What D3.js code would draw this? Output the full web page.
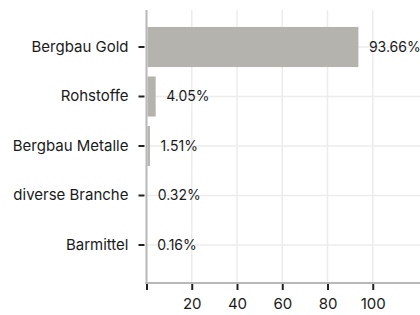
<!DOCTYPE html>
<html>
<head>
<meta charset="utf-8">
<script src="https://cdn.jsdelivr.net/npm/d3@7"></script>
<style>
  body { margin: 0; background: #fff; }
  text { font-family: Inter, "Noto Sans", sans-serif; fill: #1a1a1a; }
</style>
</head>
<body>
<div class="chartDiv"></div>
<script>

// data
let categories = ["Bergbau Gold", "Rohstoffe", "Bergbau Metalle", "diverse Branche", "Barmittel"];
let values = [93.66, 4.05, 1.51, 0.32, 0.16];
let valueLabels = ["93.66%", "4.05%", "1.51%", "0.32%", "0.16%"];
let xTicks = [0, 20, 40, 60, 80, 100];

let width = 420, height = 315;
let plot = {left: 146.5, right: 418, top: 10, bottom: 283};
let axisFont = 15, labelFont = 14;

let svg = d3.select(".chartDiv").append("svg")
    .attr("width", width)
    .attr("height", height);

// scales
let x = d3.scaleLinear().domain([0, 120]).range([plot.left, plot.right]);
let y = d3.scaleBand().domain(categories)
    .range([22.25, 269.75])
    .paddingInner(0.19)
    .paddingOuter(0.095);

// grid
svg.append("g").selectAll("line")
    .data(xTicks.slice(1))
    .join("line")
    .attr("x1", d => x(d)).attr("x2", d => x(d))
    .attr("y1", plot.top).attr("y2", plot.bottom)
    .attr("stroke", "#ececec")
    .attr("stroke-width", 1.5);

svg.append("g").selectAll("line")
    .data(categories)
    .join("line")
    .attr("x1", plot.left).attr("x2", width)
    .attr("y1", d => y(d) + y.bandwidth() / 2).attr("y2", d => y(d) + y.bandwidth() / 2)
    .attr("stroke", "#ececec")
    .attr("stroke-width", 1.5);

// bars
svg.append("g").selectAll("rect")
    .data(values)
    .join("rect")
    .attr("x", x(0) + 1)
    .attr("y", (d, i) => y(categories[i]))
    .attr("width", d => Math.max(0, x(d) - x(0) - 1))
    .attr("height", y.bandwidth())
    .attr("fill", "#b5b3ae");

// value labels
svg.append("g").selectAll("text")
    .data(values)
    .join("text")
    .attr("x", d => x(d) + 10.5)
    .attr("y", (d, i) => y(categories[i]) + y.bandwidth() / 2)
    .attr("dy", "0.35em")
    .attr("font-size", labelFont)
    .text((d, i) => valueLabels[i]);

// y axis
let yAxis = svg.append("g")
    .attr("transform", "translate(" + (plot.left - 2) + ",0)")
    .call(d3.axisLeft(y).tickSize(6).tickPadding(10));
yAxis.select(".domain").remove();
yAxis.selectAll(".tick line").attr("stroke", "#222").attr("stroke-width", 2);
yAxis.selectAll(".tick text")
    .attr("font-size", axisFont)
    .attr("font-family", "Inter, 'Noto Sans', sans-serif")
    .attr("fill", "#1a1a1a");

svg.append("line")
    .attr("x1", plot.left).attr("x2", plot.left)
    .attr("y1", plot.top).attr("y2", plot.bottom + 1)
    .attr("stroke", "#b8b8b8")
    .attr("stroke-width", 2);

// x axis
let xAxis = svg.append("g")
    .attr("transform", "translate(0," + (plot.bottom + 1) + ")")
    .call(d3.axisBottom(x).tickValues(xTicks).tickSize(6).tickPadding(8)
        .tickFormat(d => d === 0 ? "" : d));
xAxis.select(".domain").remove();
xAxis.selectAll(".tick line").attr("stroke", "#222").attr("stroke-width", 2);
xAxis.selectAll(".tick text")
    .attr("font-size", axisFont)
    .attr("font-family", "Inter, 'Noto Sans', sans-serif")
    .attr("fill", "#1a1a1a");

svg.append("line")
    .attr("x1", plot.left - 1).attr("x2", width)
    .attr("y1", plot.bottom).attr("y2", plot.bottom)
    .attr("stroke", "#b8b8b8")
    .attr("stroke-width", 2);

</script>
</body>
</html>
